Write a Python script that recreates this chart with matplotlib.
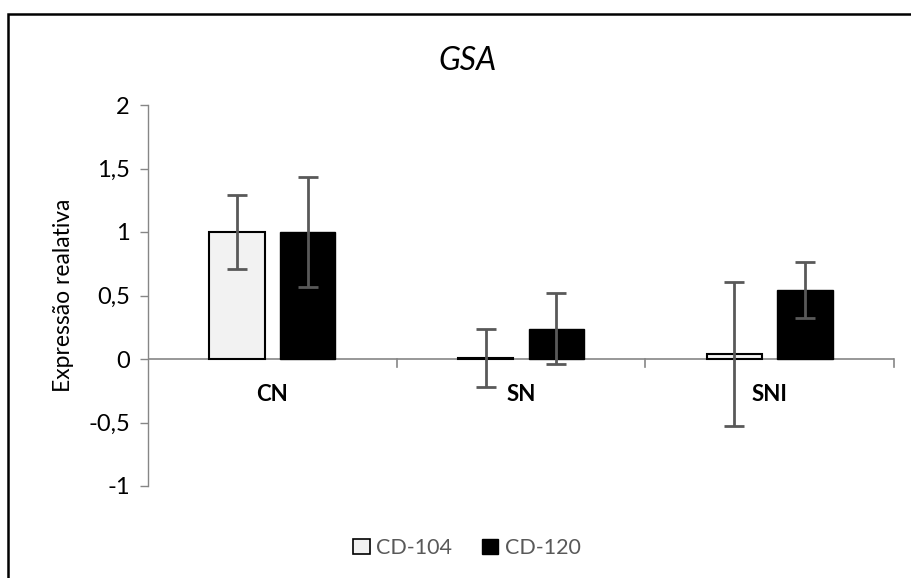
import matplotlib
matplotlib.use("Agg")
import matplotlib.pyplot as plt
from matplotlib.patches import Rectangle, Patch
import numpy as np

categories = ["CN", "SN", "SNI"]
series_names = ["CD-104", "CD-120"]
cd104_vals = [1.0, 0.01, 0.04]
cd104_err = [0.29, 0.23, 0.57]
cd120_vals = [1.0, 0.24, 0.54]
cd120_err = [0.43, 0.28, 0.22]
yticks = [-1, -0.5, 0, 0.5, 1, 1.5, 2]
ytick_labels = ["-1", "-0,5", "0", "0,5", "1", "1,5", "2"]

plt.rcParams['font.family'] = ['Lato', 'DejaVu Sans']

W, H = 911, 578
fig = plt.figure(figsize=(W / 100, H / 100), dpi=100)
ax_w = 894 - 148
ax = fig.add_axes([148 / W, 1 - 486 / H, ax_w / W, (486 - 105) / H])

x = np.arange(len(categories))
bw = 0.222
off = 0.142
ecol = "#595959"
ax.bar(x - off, cd104_vals, bw, color="#F2F2F2", edgecolor="black", linewidth=1.5, zorder=2)
ax.bar(x + off, cd120_vals, bw, color="black", edgecolor="black", linewidth=1.0, zorder=2)
ax.errorbar(x - off, cd104_vals, yerr=cd104_err, fmt="none", ecolor=ecol, elinewidth=2,
            capsize=7, capthick=2, zorder=3)
ax.errorbar(x + off, cd120_vals, yerr=cd120_err, fmt="none", ecolor=ecol, elinewidth=2,
            capsize=7, capthick=2, zorder=3)

ax.set_xlim(-0.5, 2.5)
ax.set_ylim(-1, 2)
ax.set_yticks(yticks)
ax.set_yticklabels(ytick_labels, fontsize=17)
ax.tick_params(axis="y", direction="out", length=6, width=1, color="#868686", pad=7)

for s in ["top", "right", "bottom"]:
    ax.spines[s].set_visible(False)
ax.spines["left"].set_color("#868686")
ax.spines["left"].set_linewidth(1)

# category axis at y=0
ax.axhline(0, color="#868686", linewidth=1.2, zorder=1)
ax.set_xticks([])
for b in [0.5, 1.5, 2.5]:
    ax.plot([b, b], [0, -0.06], color="#868686", linewidth=1.2, clip_on=False, zorder=1)
for xi, c in zip(x, categories):
    ax.text(xi, -0.28, c, ha="center", va="center", fontsize=16, fontweight="bold")

ax.set_ylabel("Expressão realativa", fontsize=16.5)
ax.yaxis.set_label_coords(-74 / ax_w, 0.5)

fig.text(468 / W, 1 - 61 / H, "GSA", ha="center", va="center", fontsize=23, style="italic")

handles = [Patch(facecolor="#F2F2F2", edgecolor="black", linewidth=1.2),
           Patch(facecolor="black", edgecolor="black")]
leg = fig.legend(handles, series_names, loc="center", bbox_to_anchor=(467 / W, 1 - 548 / H),
                 ncol=2, frameon=False, fontsize=15.5, handlelength=0.75, handleheight=0.75,
                 handletextpad=0.3, columnspacing=1.4)
for t in leg.get_texts():
    t.set_color("#595959")

# outer frame
fig.add_artist(Rectangle((8 / W, -0.01), 1.0, 1 - 14 / H + 0.01, transform=fig.transFigure,
                         fill=False, edgecolor="black", linewidth=1.8))

fig.savefig("out.png", dpi=100)
